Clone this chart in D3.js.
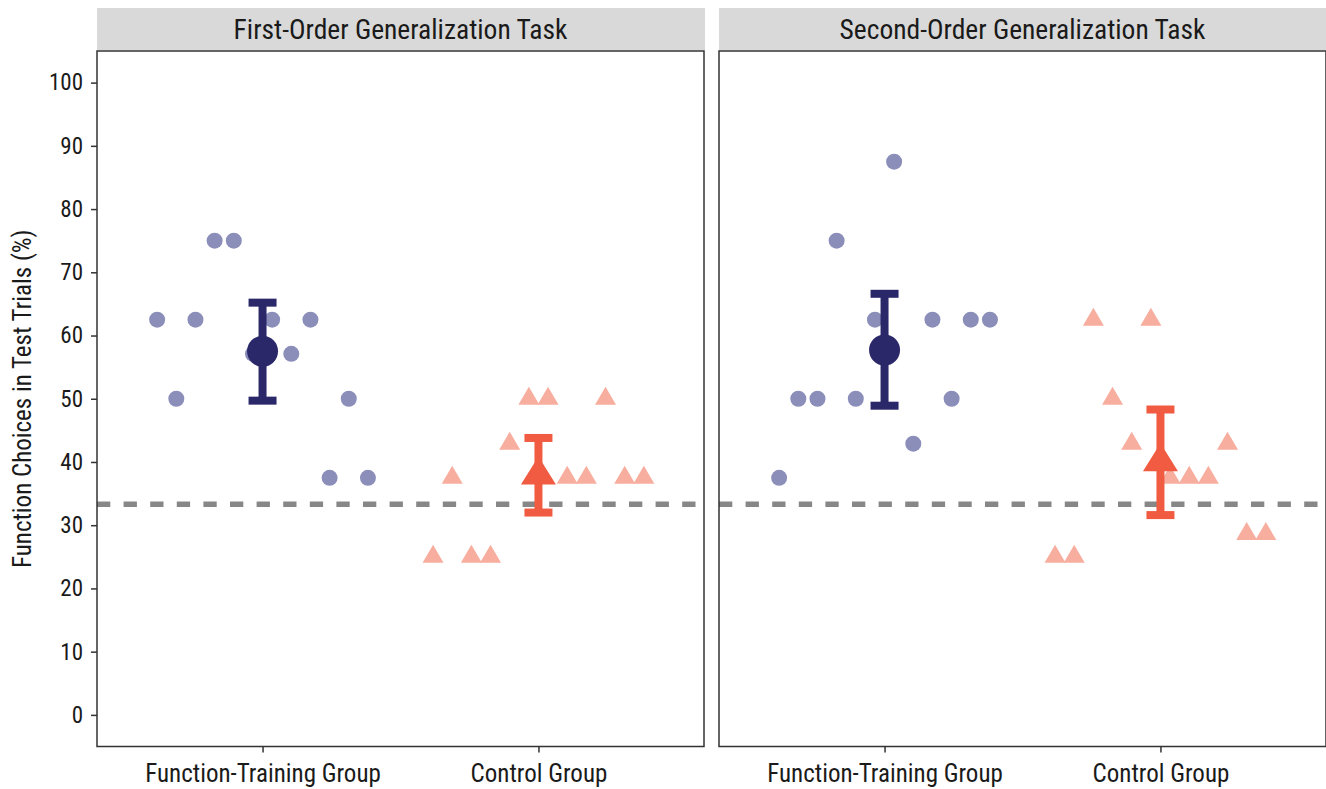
<html>
<head>
<script src="https://d3js.org/d3.v7.min.js"></script>
<style>
  body { margin: 0; background: #fff; }
  text { font-family: 'Liberation Sans Narrow', 'Roboto Condensed', 'DejaVu Sans Condensed', 'Arial Narrow', sans-serif; fill: #1a1a1a; }
</style>
</head>
<body>
<svg width="1326" height="789"></svg>
<script>
// data
var panels = ["First-Order Generalization Task", "Second-Order Generalization Task"];
var groups = ["Function-Training Group", "Control Group"];
var slots = [1, 2, 3, 4, 5, 6, 7, 8, 9, 10, 11, 12];   // participant order within a group
var firstFT   = [62.5, 50, 62.5, 75, 75, 57.1, 62.5, 57.1, 62.5, 37.5, 50, 37.5];
var firstCtrl = [25, 37.5, 25, 25, 42.9, 50, 50, 37.5, 37.5, 50, 37.5, 37.5];
var secondFT   = [37.5, 50, 50, 75, 50, 62.5, 87.5, 42.9, 62.5, 50, 62.5, 62.5];
var secondCtrl = [25, 25, 62.5, 50, 42.9, 62.5, 37.5, 37.5, 37.5, 42.9, 28.6, 28.6];
var means  = [[57.5, 37.9], [57.7, 40.0]];
var ciLow  = [[49.7, 32.0], [48.9, 31.6]];
var ciHigh = [[65.2, 43.8], [66.6, 48.3]];
var chance = 33.33;
var yTicks = [0, 10, 20, 30, 40, 50, 60, 70, 80, 90, 100];

var points = [[firstFT, firstCtrl], [secondFT, secondCtrl]];

var lightCol = ["#8b8eb9", "#f8ae9f"];
var darkCol  = ["#2b2869", "#f05b41"];

(function () {
var svg = d3.select("svg");

var panelX = [97, 719], panelW = 607, yTop = 51, yBottom = 746.5;

var y = d3.scaleLinear().domain([-5, 105]).range([yBottom, yTop]);
var x = d3.scaleLinear().domain([0.4, 2.6]).range([0, panelW]);
var jit = d3.scalePoint().domain(slots).range([-0.382, 0.382]);

function tri(w, h) {
  return "M0," + (-2 * h / 3) + "L" + (w / 2) + "," + (h / 3) + "L" + (-w / 2) + "," + (h / 3) + "Z";
}

panels.forEach(function (title, p) {
  var g = svg.append("g").attr("transform", "translate(" + panelX[p] + ",0)");

  // strip
  g.append("rect").attr("x", 0).attr("y", 8).attr("width", p == 0 ? 608 : 607).attr("height", 42)
    .attr("fill", "#d9d9d9");
  g.append("text").attr("x", panelW / 2).attr("y", 38.5).attr("text-anchor", "middle")
    .style("font-size", "27.5px").text(title);

  // chance line
  g.append("line").attr("x1", 0).attr("x2", panelW)
    .attr("y1", y(chance)).attr("y2", y(chance))
    .attr("stroke", "#878787").attr("stroke-width", 5.5)
    .attr("stroke-dasharray", "13.3,13.3");

  // individual points
  groups.forEach(function (grp, gi) {
    var vals = points[p][gi];
    var sel = g.append("g").selectAll("path").data(vals).enter();
    if (gi == 0) {
      sel.append("circle")
        .attr("cx", function (d, i) { return x(gi + 1 + jit(slots[i])); })
        .attr("cy", function (d) { return y(d); })
        .attr("r", 8).attr("fill", lightCol[gi]);
    } else {
      sel.append("path")
        .attr("d", tri(21, 18))
        .attr("transform", function (d, i) { return "translate(" + x(gi + 1 + jit(slots[i])) + "," + y(d) + ")"; })
        .attr("fill", lightCol[gi]);
    }
  });

  // error bars and means
  groups.forEach(function (grp, gi) {
    var cx = x(gi + 1);
    var eb = g.append("g").attr("stroke", darkCol[gi]).attr("stroke-width", 8);
    eb.append("line").attr("x1", cx).attr("x2", cx).attr("y1", y(ciLow[p][gi])).attr("y2", y(ciHigh[p][gi]));
    eb.append("line").attr("x1", cx - 14).attr("x2", cx + 14).attr("y1", y(ciLow[p][gi])).attr("y2", y(ciLow[p][gi]));
    eb.append("line").attr("x1", cx - 14).attr("x2", cx + 14).attr("y1", y(ciHigh[p][gi])).attr("y2", y(ciHigh[p][gi]));
    if (gi == 0) {
      g.append("circle").attr("cx", cx).attr("cy", y(means[p][gi])).attr("r", 15.5).attr("fill", darkCol[gi]);
    } else {
      g.append("path").attr("d", tri(35, 28))
        .attr("transform", "translate(" + cx + "," + y(means[p][gi]) + ")")
        .attr("fill", darkCol[gi]);
    }
  });

  // panel border
  g.append("rect").attr("x", 0).attr("y", yTop).attr("width", panelW).attr("height", yBottom - yTop)
    .attr("fill", "none").attr("stroke", "#333").attr("stroke-width", 1.5);

  // x axis
  var xa = g.append("g").attr("transform", "translate(0," + yBottom + ")")
    .call(d3.axisBottom(x).tickValues([1, 2]).tickSize(6).tickPadding(12)
      .tickFormat(function (d) { return groups[d - 1]; }));
  xa.select(".domain").remove();
  xa.selectAll("line").attr("stroke", "#333").attr("stroke-width", 1.5);
  xa.selectAll("text").style("font-size", "25px").attr("fill", "#1a1a1a");

  if (p == 0) {
    var ya = g.append("g").call(d3.axisLeft(y).tickValues(yTicks).tickSize(6).tickPadding(8));
    ya.select(".domain").remove();
    ya.selectAll("line").attr("stroke", "#333").attr("stroke-width", 1.5);
    ya.selectAll("text").style("font-size", "23px").attr("fill", "#1a1a1a");
  }
});

svg.append("text")
  .attr("transform", "translate(31," + ((yTop + yBottom) / 2) + ") rotate(-90)")
  .attr("text-anchor", "middle")
  .style("font-size", "25px")
  .text("Function Choices in Test Trials (%)");
})();
</script>
</body>
</html>
